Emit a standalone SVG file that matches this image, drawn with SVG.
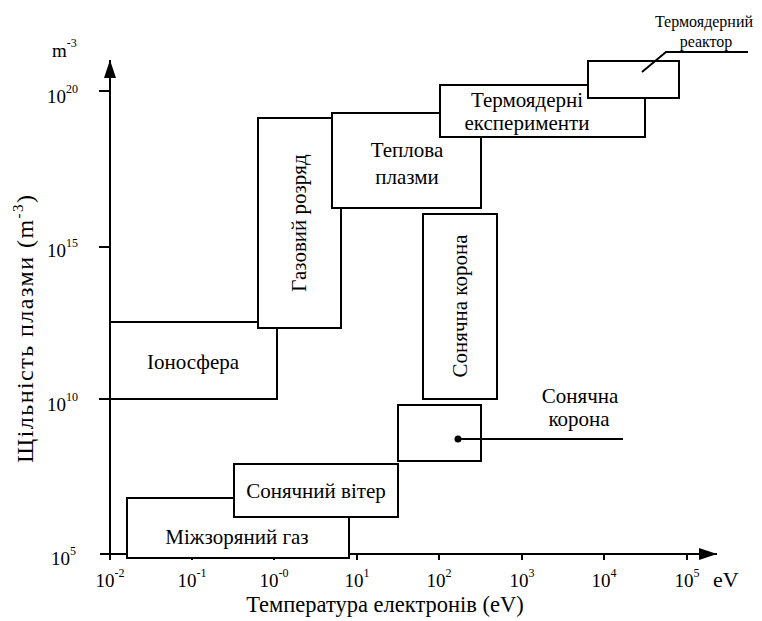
<svg xmlns="http://www.w3.org/2000/svg" width="762" height="621" viewBox="0 0 762 621">
<style>
.b{fill:#fff;stroke:#000;stroke-width:2}
.l{fill:none;stroke:#000;stroke-width:2}
.t{font-size:21px;text-anchor:middle}
.s{font-size:16px;text-anchor:middle}
.k{font-size:19px}
.sup{font-size:12px}
</style>
<defs>
<marker id="ar" markerWidth="20" markerHeight="14" refX="18" refY="6" orient="auto" markerUnits="userSpaceOnUse">
<path d="M0,0 L18,6 L0,12 Z" fill="#000"/>
</marker>
</defs>
<rect width="762" height="621" fill="#fff"/>
<g id="axes">
<line class="l" x1="110" y1="554" x2="110" y2="60" marker-end="url(#ar)"/>
<line class="l" x1="100" y1="554" x2="717" y2="554" marker-end="url(#ar)"/>
<path class="l" d="M99,91H110M99,247H110M99,399H110M110,554V560M192,554V560M274,554V560M357,554V560M439,554V560M522,554V560M604,554V560M687,554V560"/>
</g>
<g id="nodes">
<g id="mizhzoryanyi"><rect class="b" x="127" y="498" width="222" height="60"/><text font-family="Liberation Serif" class="t" x="237" y="544">Міжзоряний газ</text></g>
<g id="soniachnyi-viter"><rect class="b" x="234" y="464" width="164" height="53"/><text font-family="Liberation Serif" class="t" x="316" y="498">Сонячний вітер</text></g>
<g id="korona-small"><rect class="b" x="398" y="405" width="83" height="56"/></g>
<g id="ionosfera"><rect class="b" x="110" y="322" width="167" height="77"/><text font-family="Liberation Serif" class="t" x="193" y="369">Іоносфера</text></g>
<g id="hazovyi"><rect class="b" x="258" y="118" width="83" height="210"/><text font-family="Liberation Serif" class="t" transform="translate(306,223) rotate(-90)">Газовий розряд</text></g>
<g id="teplova"><rect class="b" x="332" y="113" width="149" height="95"/><text font-family="Liberation Serif" class="t" x="407" y="157">Теплова</text><text font-family="Liberation Serif" class="t" x="407" y="184">плазми</text></g>
<g id="korona"><rect class="b" x="423" y="214" width="74" height="185"/><text font-family="Liberation Serif" class="t" transform="translate(467,306) rotate(-90)">Сонячна корона</text></g>
<g id="termo-exp"><rect class="b" x="440" y="85" width="205" height="52"/><text font-family="Liberation Serif" class="t" x="527" y="107">Термоядерні</text><text font-family="Liberation Serif" class="t" x="527" y="130">експерименти</text></g>
<g id="reaktor"><rect class="b" x="588" y="61" width="91" height="37"/></g>
</g>
<g id="connectors">
<path class="l" d="M642,72L666,52H748"/>
<line class="l" x1="458" y1="439" x2="623" y2="439"/>
<circle cx="458" cy="439" r="3.5" fill="#000"/>
</g>
<g id="labels">
<text font-family="Liberation Serif" class="s" x="704" y="27">Термоядерний</text>
<text font-family="Liberation Serif" class="s" x="706" y="47">реактор</text>
<text font-family="Liberation Serif" class="t" x="580" y="403">Сонячна</text>
<text font-family="Liberation Serif" class="t" x="579" y="426">корона</text>
<text font-family="Liberation Serif" class="k" x="52" y="57">m<tspan class="sup" dy="-10">-3</tspan></text>
<text font-family="Liberation Serif" class="k" x="47" y="103">10<tspan class="sup" dy="-10">20</tspan></text>
<text font-family="Liberation Serif" class="k" x="47" y="257">10<tspan class="sup" dy="-10">15</tspan></text>
<text font-family="Liberation Serif" class="k" x="47" y="411">10<tspan class="sup" dy="-10">10</tspan></text>
<text font-family="Liberation Serif" class="k" x="51" y="565">10<tspan class="sup" dy="-10">5</tspan></text>
<text font-family="Liberation Serif" font-size="19" text-anchor="middle" x="110" y="587">10<tspan class="sup" dy="-10">-2</tspan></text>
<text font-family="Liberation Serif" font-size="19" text-anchor="middle" x="192" y="587">10<tspan class="sup" dy="-10">-1</tspan></text>
<text font-family="Liberation Serif" font-size="19" text-anchor="middle" x="274" y="587">10<tspan class="sup" dy="-10">-0</tspan></text>
<text font-family="Liberation Serif" font-size="19" text-anchor="middle" x="357" y="587">10<tspan class="sup" dy="-10">1</tspan></text>
<text font-family="Liberation Serif" font-size="19" text-anchor="middle" x="439" y="587">10<tspan class="sup" dy="-10">2</tspan></text>
<text font-family="Liberation Serif" font-size="19" text-anchor="middle" x="522" y="587">10<tspan class="sup" dy="-10">3</tspan></text>
<text font-family="Liberation Serif" font-size="19" text-anchor="middle" x="604" y="587">10<tspan class="sup" dy="-10">4</tspan></text>
<text font-family="Liberation Serif" font-size="19" text-anchor="middle" x="687" y="587">10<tspan class="sup" dy="-10">5</tspan></text>
<text font-family="Liberation Serif" x="713" y="587" font-size="22">eV</text>
<text font-family="Liberation Serif" x="385" y="612" font-size="22.5" text-anchor="middle">Температура електронів (eV)</text>
<text font-family="Liberation Serif" transform="translate(33,329) rotate(-90)" font-size="24" text-anchor="middle" textLength="268" lengthAdjust="spacing">Щільність плазми (m<tspan font-size="15" dy="-10">-3</tspan><tspan dy="10">)</tspan></text>
</g>
</svg>
